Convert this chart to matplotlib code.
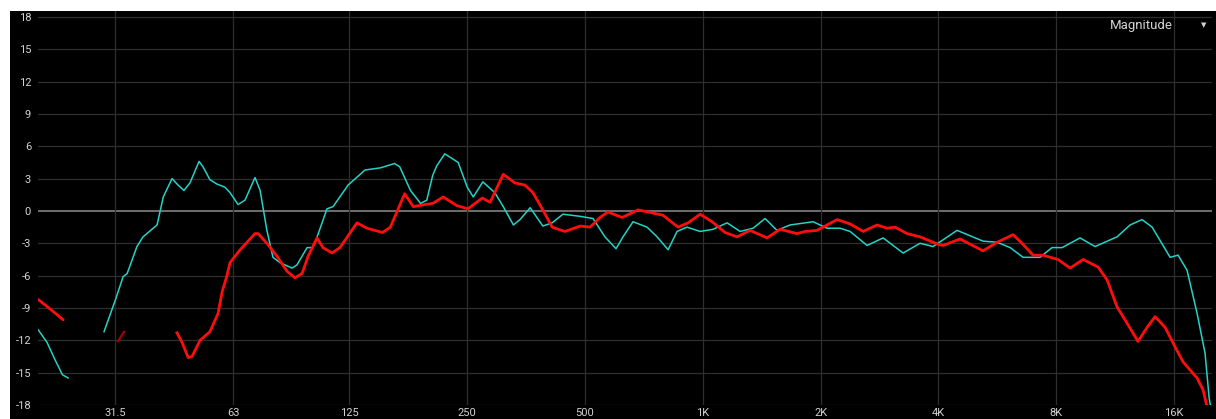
import numpy as np
import matplotlib
matplotlib.use('Agg')
import matplotlib.pyplot as plt
from matplotlib.patches import Rectangle

# frequency response readings (Hz, dB)
red_lo_f = [20, 21.5, 23.2]
red_lo_db = [-8.2, -9.1, -10.1]

red_dark_f = [32.0, 33.2]
red_dark_db = [-12.1, -11.2]

red_f = [45.3, 46.7, 48.4, 49.5, 51.9, 55.0, 57.7, 59.1, 60.8, 61.9, 65.7, 71.7, 73.0, 76.9,
         81.6, 86.6, 90.7, 94.6, 98.0, 103.3, 107, 112.8, 118.2, 130.7, 138.5, 152, 159, 173,
         182, 195, 204, 217, 235, 251, 273, 286, 309, 331, 351, 368, 390, 412, 444, 486, 515,
         546, 572, 622, 683, 746, 791, 864, 917, 984, 1056, 1140, 1223, 1320, 1459, 1575, 1741,
         1825, 1958, 2203, 2378, 2567, 2788, 2956, 3099, 3325, 3590, 3992, 4110, 4541, 5200,
         5650, 6204, 6542, 6980, 7400, 8080, 8680, 9370, 10230, 10790, 11440, 12130, 12940,
         13650, 14310, 15180, 16090, 16870, 18320, 18980, 19430]
red_db = [-11.3, -12.2, -13.6, -13.5, -12.0, -11.2, -9.5, -7.5, -6.0, -4.8, -3.6, -2.1, -2.1, -3.0,
          -4.2, -5.6, -6.2, -5.8, -4.2, -2.5, -3.4, -3.9, -3.4, -1.1, -1.6, -2.0, -1.5, 1.6,
          0.4, 0.6, 0.7, 1.3, 0.5, 0.2, 1.2, 0.8, 3.4, 2.6, 2.4, 1.7, 0.1, -1.5, -1.9, -1.4, -1.5,
          -0.6, -0.1, -0.6, 0.1, -0.2, -0.4, -1.5, -1.1, -0.3, -1.0, -2.0, -2.4, -1.8, -2.5, -1.7, -2.1,
          -1.9, -1.8, -0.8, -1.2, -1.9, -1.3, -1.6, -1.5, -2.1, -2.4, -3.1, -3.2, -2.6, -3.7,
          -2.9, -2.2, -3.0, -4.1, -4.1, -4.5, -5.3, -4.5, -5.2, -6.4, -8.9, -10.4, -12.1,
          -10.8, -9.8, -10.8, -12.6, -14.0, -15.5, -16.6, -18.2]

cyan_lo_f = [20, 21.1, 22.1, 23.1, 23.9]
cyan_lo_db = [-11.0, -12.2, -13.8, -15.2, -15.5]

cyan_f = [29.5, 31.5, 33.0, 33.8, 35.8, 37.1, 40.3, 41.8, 44.0, 45.6, 47.2, 48.9, 51.6, 52.8,
          55.0, 57.3, 60.1, 61.9, 64.9, 67.6, 71.7, 73.9, 76.9, 79.7, 83.1, 89.2, 91.8, 97.4,
          100.3, 102, 109.5, 113.5, 124, 137, 150, 163, 168, 179, 190, 197, 204, 209, 219, 237,
          250, 259, 274, 294, 309, 328, 341, 362, 390, 412, 439, 486, 524, 562, 600, 625, 663,
          720, 764, 815, 859, 911, 984, 1062, 1153, 1245, 1344, 1442, 1547, 1670, 1913, 2076,
          2242, 2378, 2628, 2888, 3248, 3590, 3875, 4463, 5200, 5650, 6100, 6580, 7270, 7800,
          8280, 9200, 10050, 11440, 12350, 13250, 14060, 15630, 16380, 17270, 18320, 19200,
          19660, 19800]
cyan_db = [-11.2, -8.3, -6.1, -5.8, -3.3, -2.4, -1.3, 1.3, 3.0, 2.4, 1.9, 2.6, 4.6, 4.1,
           2.9, 2.5, 2.2, 1.7, 0.6, 1.0, 3.1, 1.9, -1.8, -4.3, -4.8, -5.3, -5.0, -3.4,
           -3.4, -3.0, 0.2, 0.4, 2.4, 3.8, 4.0, 4.4, 4.1, 1.9, 0.7, 1.0, 3.3, 4.2, 5.3, 4.5,
           2.2, 1.3, 2.7, 1.7, 0.4, -1.3, -0.8, 0.3, -1.4, -1.1, -0.3, -0.5, -0.7, -2.4, -3.5, -2.4, -1.0,
           -1.5, -2.4, -3.6, -1.9, -1.5, -1.9, -1.7, -1.1, -1.9, -1.6, -0.7, -1.8, -1.3, -1.0, -1.6,
           -1.6, -1.9, -3.2, -2.5, -3.9, -3.0, -3.3, -1.8, -2.8, -2.9, -3.4, -4.3, -4.3, -3.4,
           -3.4, -2.5, -3.3, -2.4, -1.3, -0.8, -1.5, -4.3, -4.1, -5.5, -9.5, -13.2,
           -17.3, -18.0]

tick_freqs = [31.5, 63, 125, 250, 500, 1000, 2000, 4000, 8000, 16000]
tick_labels = ['31.5', '63', '125', '250', '500', '1K', '2K', '4K', '8K', '16K']
db_ticks = list(range(-18, 19, 3))

RED = '#ff0d0d'
CYAN = '#24d2c6'
TXT = '#d2d2d2'

plt.rcParams['font.family'] = ['Roboto', 'DejaVu Sans']

fig = plt.figure(figsize=(12.16, 4.19), dpi=100)
fig.patch.set_facecolor('white')
# black panel behind the plot
fig.patches.append(Rectangle((10 / 1216, 0), 1, (419 - 11) / 419, transform=fig.transFigure,
                             facecolor='black', edgecolor='none', zorder=-10))

ax = fig.add_axes([38 / 1216, 14 / 419, (1212 - 38) / 1216, (405 - 11) / 419])
ax.set_facecolor('black')
ax.set_xscale('log')
ax.set_xlim(20, 20000)
ax.set_ylim(-18, 18.55)

for y in db_ticks:
    if y == 0:
        ax.axhline(y, color='#8c8c8c', lw=1.1, zorder=1)
    else:
        ax.axhline(y, color='#2e2e2e', lw=0.9, zorder=1)
for f in tick_freqs:
    ax.axvline(f, color='#2e2e2e', lw=0.9, zorder=1)

ax.plot(cyan_lo_f, cyan_lo_db, color=CYAN, lw=1.1, solid_capstyle='round', zorder=3)
ax.plot(cyan_f, cyan_db, color=CYAN, lw=1.1, solid_joinstyle='round', zorder=3)
ax.plot(red_lo_f, red_lo_db, color=RED, lw=2.0, solid_capstyle='round', zorder=4)
ax.plot(red_dark_f, red_dark_db, color='#a80000', lw=1.6, solid_capstyle='round', zorder=4)
ax.plot(red_f, red_db, color=RED, lw=2.0, solid_joinstyle='round', zorder=4)

ax.set_xticks(tick_freqs)
ax.set_xticklabels(tick_labels)
ax.xaxis.set_minor_locator(matplotlib.ticker.NullLocator())
ax.set_yticks(db_ticks)
ax.set_yticklabels([str(v) for v in db_ticks])
ax.tick_params(axis='both', length=0, colors=TXT, labelsize=8)
ax.tick_params(axis='x', pad=2)
ax.tick_params(axis='y', pad=5)
for s in ax.spines.values():
    s.set_visible(False)

fig.text(1141 / 1216, 1 - 25 / 419, 'Magnitude', color=TXT, fontsize=9.5,
         ha='center', va='center')
fig.text(1204 / 1216, 1 - 25 / 419, '\u25BC', color=TXT, fontsize=5,
         ha='center', va='center', family='DejaVu Sans')

fig.savefig('out.png', dpi=100, facecolor=fig.get_facecolor())
